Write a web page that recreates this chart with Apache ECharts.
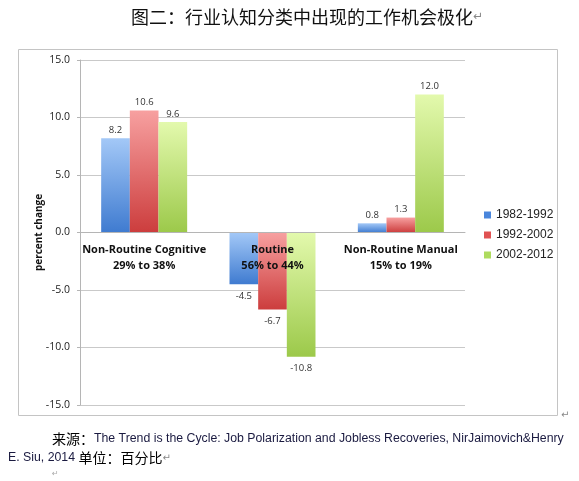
<!DOCTYPE html>
<html lang="zh">
<head>
    <meta charset="UTF-8">
    <title>图二</title>
    <script type="text/javascript" src="https://cdn.jsdelivr.net/npm/echarts@6/dist/echarts.min.js"></script>
    <style>
        html, body { margin: 0; padding: 0; background: #fff; }
    </style>
</head>
<body>
    <div id="main" style="width: 579px;height:481px;"></div>
    <script type="text/javascript">
        // 数据
        var categories = ['Non-Routine Cognitive\n29% to 38%', 'Routine\n56% to 44%', 'Non-Routine Manual\n15% to 19%'];
        var periods = ['1982-1992', '1992-2002', '2002-2012'];
        var v1982 = [8.2, -4.5, 0.8];
        var v1992 = [10.6, -6.7, 1.3];
        var v2002 = [9.6, -10.8, 12.0];
        var yTicks = [-15, 15, 5]; // min, max, interval

        var colors = [
            ['#a3c8f7', '#3f7bd0'],
            ['#f7a0a0', '#cc3d3d'],
            ['#e3f9ad', '#9cc94a']
        ];
        var legendColors = ['#4a86dc', '#e05252', '#aedb5e'];

        var gridTop = 60, gridBottom = 76, chartH = 481;
        var plotH = chartH - gridTop - gridBottom;
        // 横轴放在0的位置（标签一起上移）
        var zeroOffset = -plotH * (0 - yTicks[0]) / (yTicks[1] - yTicks[0]);

        function toData(arr) {
            return arr.map(function (v) {
                return {
                    value: v,
                    label: { position: v < 0 ? 'bottom' : 'top', distance: v < 0 ? 7 : 3 }
                };
            });
        }

        var allValues = [v1982, v1992, v2002];

        var myChart = echarts.init(document.getElementById('main'));

        var option = {
            animation: false,
            color: legendColors,
            title: {
                text: '图二：行业认知分类中出现的工作机会极化{m|↵}',
                left: 126,
                top: 3,
                textStyle: {
                    fontFamily: 'Noto Sans CJK SC',
                    fontSize: 18,
                    fontWeight: 'normal',
                    color: '#111',
                    rich: { m: { fontSize: 12, color: '#888', fontFamily: 'DejaVu Sans' } }
                }
            },
            legend: {
                orient: 'vertical',
                left: 479,
                top: 204,
                itemWidth: 7,
                itemHeight: 7,
                itemGap: 8,
                icon: 'rect',
                data: periods.map(function (p, i) {
                    return { name: p, itemStyle: { color: legendColors[i] } };
                }),
                textStyle: { fontFamily: 'Liberation Sans', fontSize: 12, color: '#222' }
            },
            grid: { left: 80, right: 114, top: gridTop, bottom: gridBottom },
            xAxis: {
                type: 'category',
                data: categories,
                z: 10,
                position: 'bottom',
                offset: zeroOffset,
                axisLine: { onZero: false, lineStyle: { color: '#b5b5b5' } },
                axisTick: { length: 4, lineStyle: { color: '#b5b5b5' } },
                axisLabel: {
                    interval: 0,
                    hideOverlap: false,
                    margin: 9,
                    fontFamily: 'Open Sans',
                    fontSize: 11,
                    fontWeight: 'bold',
                    lineHeight: 16,
                    color: '#111'
                }
            },
            yAxis: {
                type: 'value',
                min: yTicks[0],
                max: yTicks[1],
                interval: yTicks[2],
                name: 'percent change',
                nameLocation: 'middle',
                nameGap: 36,
                nameMoveOverlap: false,
                nameTextStyle: { fontFamily: 'Open Sans', fontSize: 10, fontWeight: 'bold', color: '#111' },
                axisLine: { show: true, lineStyle: { color: '#b5b5b5' } },
                axisTick: { show: true, length: 3, lineStyle: { color: '#b5b5b5' } },
                splitLine: { lineStyle: { color: '#c9c9c9' } },
                axisLabel: {
                    margin: 10,
                    fontFamily: 'Open Sans',
                    fontSize: 10.5,
                    color: '#222',
                    formatter: function (v) { return v.toFixed(1); }
                }
            },
            series: periods.map(function (p, i) {
                return {
                    name: p,
                    type: 'bar',
                    barGap: 0,
                    barCategoryGap: '33%',
                    data: toData(allValues[i]),
                    itemStyle: {
                        color: new echarts.graphic.LinearGradient(0, 0, 0, 1, [
                            { offset: 0, color: colors[i][0] },
                            { offset: 1, color: colors[i][1] }
                        ])
                    },
                    label: {
                        show: true,
                        fontFamily: 'Open Sans',
                        fontSize: 9.5,
                        color: '#333',
                        formatter: function (d) { return d.value.toFixed(1); }
                    }
                };
            }),
            graphic: [
                {
                    type: 'rect',
                    shape: { x: 18.5, y: 49.5, width: 539, height: 366 },
                    style: { fill: 'none', stroke: '#c4c4c4', lineWidth: 1 },
                    z: -1
                },
                {
                    type: 'text',
                    left: 561, top: 410,
                    style: { text: '↵', fontSize: 10, fill: '#888', fontFamily: 'DejaVu Sans' }
                },
                {
                    type: 'text',
                    left: 52, top: 432,
                    style: {
                        text: '{c|来源：}{e|The Trend is the Cycle: Job Polarization and Jobless Recoveries, NirJaimovich&Henry}',
                        rich: {
                            c: { fontFamily: 'Noto Sans CJK SC', fontSize: 14, fill: '#000' },
                            e: { fontFamily: 'Liberation Sans', fontSize: 12.3, fill: '#1a1a40' }
                        }
                    }
                },
                {
                    type: 'text',
                    left: 8, top: 451,
                    style: {
                        text: '{e|E. Siu, 2014 }{c|单位：百分比}{m|↵}',
                        rich: {
                            c: { fontFamily: 'Noto Sans CJK SC', fontSize: 14, fill: '#000' },
                            e: { fontFamily: 'Liberation Sans', fontSize: 12.3, fill: '#1a1a40' },
                            m: { fontSize: 10, fill: '#888', fontFamily: 'DejaVu Sans' }
                        }
                    }
                },
                {
                    type: 'text',
                    left: 52, top: 470,
                    style: { text: '↵', fontSize: 8, fill: '#aaa', fontFamily: 'DejaVu Sans' }
                }
            ]
        };

        myChart.setOption(option);
    </script>
</body>
</html>
